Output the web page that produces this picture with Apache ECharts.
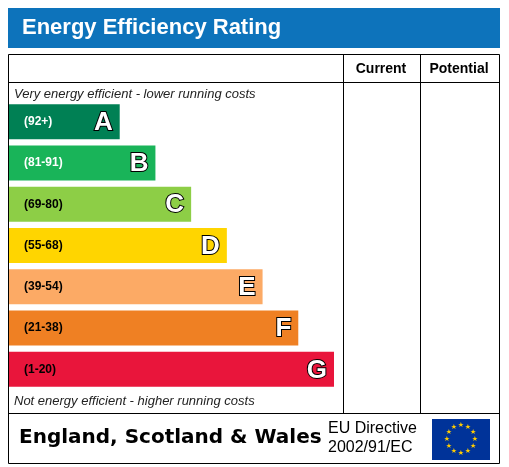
<!DOCTYPE html>
<html><head><meta charset="utf-8">
<script src="https://cdn.jsdelivr.net/npm/echarts@6/dist/echarts.min.js"></script>
<style>html,body{margin:0;padding:0;background:#fff}#c{width:509px;height:467px}</style>
</head><body><div id="c"></div>
<script>
const bands = ['A','B','C','D','E','F','G'];
const ranges = ['(92+)','(81-91)','(69-80)','(55-68)','(39-54)','(21-38)','(1-20)'];
const barLengths = [31,41,51,61,71,81,91];
const bandColors = ['#008054','#19b459','#8dce46','#ffd500','#fcaa65','#ef8023','#e9153b'];
const currentRating = {band:'G', value:17};
const potentialRating = {band:'C', value:77};

const chart = echarts.init(document.getElementById('c'));
const gTop = 101, gH = 289;
function arrowItem(color){
  return function(params, api){
    const c = api.coord([0, api.value(0)]);
    const bw = api.size([0,1])[1]*0.85;
    const x0 = params.coordSys.x, x1 = x0 + params.coordSys.width;
    const y = c[1];
    return {type:'group', children:[
      {type:'polygon', shape:{points:[[x0,y],[x0+bw/2,y-bw/2],[x1,y-bw/2],[x1,y+bw/2],[x0+bw/2,y+bw/2]]}, style:{fill:color}},
      {type:'text', style:{text:String(api.value(1)), x:x0+44, y:y+1, align:'center', verticalAlign:'middle', fill:'#fff', font:'bold 26px Arial, "Liberation Sans"'}}
    ]};
  };
}
const gr = [];
gr.push({type:'rect', shape:{x:8,y:8,width:492,height:40}, style:{fill:'#0d73bb'}});
gr.push({type:'text', style:{text:'Energy Efficiency Rating', x:22, y:28, verticalAlign:'middle', fill:'#fff', font:'bold 22px Arial, "Liberation Sans"'}});
gr.push({type:'rect', shape:{x:8.5,y:54.5,width:491,height:409}, style:{fill:'none', stroke:'#000', lineWidth:1}});
gr.push({type:'line', shape:{x1:8,y1:82.5,x2:500,y2:82.5}, style:{stroke:'#000'}});
gr.push({type:'line', shape:{x1:8,y1:413.5,x2:500,y2:413.5}, style:{stroke:'#000'}});
gr.push({type:'line', shape:{x1:343.5,y1:54,x2:343.5,y2:413}, style:{stroke:'#000'}});
gr.push({type:'line', shape:{x1:420.5,y1:54,x2:420.5,y2:413}, style:{stroke:'#000'}});
gr.push({type:'text', style:{text:'Current', x:381, y:69, align:'center', verticalAlign:'middle', fill:'#000', font:'bold 14px Arial, "Liberation Sans"'}});
gr.push({type:'text', style:{text:'Potential', x:459, y:69, align:'center', verticalAlign:'middle', fill:'#000', font:'bold 14px Arial, "Liberation Sans"'}});
gr.push({type:'text', style:{text:'Very energy efficient - lower running costs', x:14, y:94, verticalAlign:'middle', fill:'#222', font:'italic 13px Arial, "Liberation Sans"'}});
gr.push({type:'text', style:{text:'Not energy efficient - higher running costs', x:14, y:401, verticalAlign:'middle', fill:'#222', font:'italic 13px Arial, "Liberation Sans"'}});
gr.push({type:'text', style:{text:'England, Scotland & Wales', x:19, y:438, verticalAlign:'middle', fill:'#000', font:'bold 20px "DejaVu Sans", Arial'}});
gr.push({type:'text', style:{text:'EU Directive\n2002/91/EC', x:328, y:438, verticalAlign:'middle', fill:'#000', lineHeight:19, font:'16px Arial, "Liberation Sans"'}});
gr.push({type:'rect', shape:{x:432,y:419,width:58,height:41}, style:{fill:'#003399'}});
for(let i=0;i<12;i++){const a=i*Math.PI/6;gr.push({type:'text', style:{text:'★', x:461+14*Math.cos(a), y:439.5+14*Math.sin(a), align:'center', verticalAlign:'middle', fill:'#ffcc00', font:'7px "DejaVu Sans"'}});}

chart.setOption({
  animation:false,
  grid:[
    {left:9, top:gTop, width:325, height:gH},
    {left:344, top:gTop, width:74, height:gH},
    {left:422, top:gTop, width:74, height:gH}
  ],
  xAxis:[0,1,2].map(i=>({gridIndex:i, type:'value', min:0, max:i===0?91:1, show:false})),
  yAxis:[0,1,2].map(i=>({gridIndex:i, type:'category', data:bands, inverse:true, show:false})),
  series:[
    {type:'bar', xAxisIndex:0, yAxisIndex:0, barWidth:35,
     data:barLengths.map((v,i)=>({value:v, itemStyle:{color:bandColors[i]}})),
     label:{show:true, position:'insideRight', formatter:p=>bands[p.dataIndex], color:'#fff', fontSize:26, fontWeight:'bold', fontFamily:'Arial', textBorderColor:'#000', textBorderWidth:2, offset:[-2,1]}},
    {type:'bar', xAxisIndex:0, yAxisIndex:0, barWidth:35, barGap:'-100%', silent:true,
     data:barLengths.map((v,i)=>({value:0, label:{color:i<2?'#fff':'#000'}})),
     label:{show:true, position:'insideLeft', formatter:p=>ranges[p.dataIndex], fontSize:12, fontWeight:'bold', fontFamily:'Arial', offset:[10,0]}},
    {type:'custom', xAxisIndex:1, yAxisIndex:1, renderItem:arrowItem('#e9153b'), data:[[currentRating.band, currentRating.value]]},
    {type:'custom', xAxisIndex:2, yAxisIndex:2, renderItem:arrowItem('#8dce46'), data:[[potentialRating.band, potentialRating.value]]}
  ],
  graphic:gr
});
</script></body></html>
